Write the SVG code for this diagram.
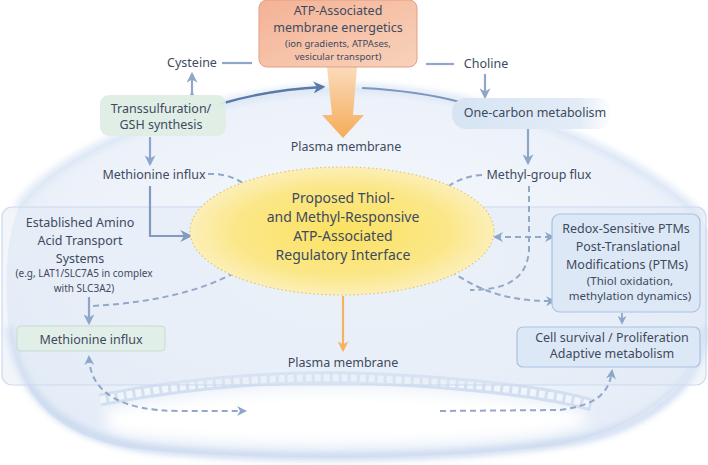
<svg xmlns="http://www.w3.org/2000/svg" width="708" height="465" viewBox="0 0 708 465">
<defs>
<style>
text{font-family:"Noto Sans","Open Sans","DejaVu Sans",sans-serif;fill:#3e4a5e;text-anchor:middle}
.m{font-size:12.5px}
.s{font-size:10px}
.e{font-size:14px}
.r{font-size:11.5px}
.sol{fill:none;stroke:#8ea6c9;stroke-width:2.2}
.dash{fill:none;stroke:#93a7c9;stroke-width:2;stroke-dasharray:6 4}
</style>
<filter id="blur" x="-10%" y="-30%" width="120%" height="160%"><feGaussianBlur stdDeviation="7"/></filter>
<filter id="blur2" x="-10%" y="-30%" width="120%" height="160%"><feGaussianBlur stdDeviation="3"/></filter>
<radialGradient id="cellG" cx="0.5" cy="0.45" r="0.6">
<stop offset="0" stop-color="#f4f7fc"/>
<stop offset="0.7" stop-color="#edf2fa"/>
<stop offset="1" stop-color="#e4ecf7"/>
</radialGradient>
<radialGradient id="ellG" cx="0.5" cy="0.5" r="0.5">
<stop offset="0" stop-color="#fbe262"/>
<stop offset="0.7" stop-color="#fbe788"/>
<stop offset="1" stop-color="#fcefb8"/>
</radialGradient>
<linearGradient id="topG" x1="0" y1="0" x2="1" y2="1">
<stop offset="0" stop-color="#f4b295"/>
<stop offset="1" stop-color="#f8d2bb"/>
</linearGradient>
<linearGradient id="orG" x1="0" y1="0" x2="0" y2="1">
<stop offset="0" stop-color="#fbd9b8"/>
<stop offset="1" stop-color="#f6a84f"/>
</linearGradient>
<linearGradient id="ocG" x1="0" y1="0" x2="1" y2="0">
<stop offset="0" stop-color="#d6e4f3"/>
<stop offset="0.8" stop-color="#e3ecf7"/>
<stop offset="1" stop-color="#e3ecf7" stop-opacity="0"/>
</linearGradient>
<marker id="ah" viewBox="0 0 10 10" refX="8" refY="5" markerWidth="5" markerHeight="5" orient="auto-start-reverse" markerUnits="strokeWidth">
<path d="M0,0 L10,5 L0,10 L3,5 z" fill="#8ea6c9"/>
</marker>
<marker id="ahd" viewBox="0 0 10 10" refX="8" refY="5" markerWidth="5.5" markerHeight="5.5" orient="auto-start-reverse" markerUnits="strokeWidth">
<path d="M0,0 L10,5 L0,10 L3,5 z" fill="#8299c0"/>
</marker>
<marker id="ahy" viewBox="0 0 10 10" refX="8" refY="5" markerWidth="6" markerHeight="6" orient="auto-start-reverse" markerUnits="strokeWidth">
<path d="M0,0 L10,5 L0,10 L3,5 z" fill="#a8a27c"/>
</marker>
<marker id="ahk" viewBox="0 0 10 10" refX="8" refY="5" markerWidth="5" markerHeight="5" orient="auto" markerUnits="strokeWidth">
<path d="M0,0 L10,5 L0,10 L3,5 z" fill="#5a78a8"/>
</marker>
<marker id="aho" viewBox="0 0 10 10" refX="8" refY="5" markerWidth="5" markerHeight="5" orient="auto" markerUnits="strokeWidth">
<path d="M0,0 L10,5 L0,10 L3,5 z" fill="#f6b264"/>
</marker>
</defs>

<rect width="708" height="465" fill="#ffffff"/>

<g id="cell">
<path d="M20,205 C60,150 200,92 340,88 C470,86 620,140 700,215 L708,230 L708,320 C700,380 650,425 560,445 C450,460 250,462 130,448 C50,435 15,390 8,320 C4,270 8,230 20,205 Z" fill="url(#cellG)"/>
<path d="M105,410 C200,392 300,388 380,391 C460,394 540,400 585,414 C600,425 560,438 450,442 C320,447 180,445 110,432 Z" fill="#ffffff" filter="url(#blur)"/>
<path d="M20,205 C60,150 200,92 340,88 C470,86 620,140 700,215" fill="none" stroke="#d9e5f4" stroke-width="9" stroke-linecap="round" opacity="0.8" filter="url(#blur2)"/>
<path d="M10,330 C20,395 60,440 160,450 C300,462 480,458 580,440 C650,425 700,385 706,330" fill="none" stroke="#c6d6ee" stroke-width="8" stroke-linecap="round" opacity="0.85" filter="url(#blur2)"/>
<path d="M100,400 C200,380 300,375 380,379 C460,383 540,390 592,405" fill="none" stroke="#d2dff1" stroke-width="13"/>
<path d="M100,400 C200,380 300,375 380,379 C460,383 540,390 592,405" fill="none" stroke="#f1f5fb" stroke-width="7" stroke-dasharray="6 3"/>
</g>

<g id="band">
<rect x="2" y="207" width="704" height="178" rx="10" fill="#dfe8f5" fill-opacity="0.4" stroke="#cbd9ed" stroke-width="1.2"/>
</g>

<g id="connectors">
<line x1="222" y1="63" x2="252" y2="63" class="sol"/>
<line x1="426" y1="64" x2="454" y2="64" class="sol"/>
<line x1="192" y1="95" x2="192" y2="74" class="sol" marker-end="url(#ah)"/>
<circle cx="192" cy="95" r="2" fill="#8ea6c9"/>
<path d="M220,104 C250,95 285,89 323,87" fill="none" stroke="#5a78a8" stroke-width="2.4" marker-end="url(#ahk)"/>
<path d="M362,88 C400,90 430,94 460,102" fill="none" stroke="#7d96c0" stroke-width="2.2"/>
<line x1="485" y1="74" x2="485" y2="97" class="sol" marker-end="url(#ah)"/>
<line x1="528" y1="123" x2="528" y2="163" class="sol" marker-end="url(#ah)"/>
<line x1="150" y1="137" x2="150" y2="164" class="sol" marker-end="url(#ah)"/>
<path d="M150,186 L150,236 L190,236" fill="none" stroke="#8299c0" stroke-width="2.2" marker-end="url(#ahd)"/>
<path d="M208,174 C230,173 245,182 256,195" class="dash" marker-end="url(#ahy)"/>
<path d="M482,175 C462,176 447,185 437,197" class="dash" marker-end="url(#ahy)"/>
<path d="M529,186 L529,250 C527,280 505,290 470,290" class="dash"/>
<line x1="495" y1="237" x2="553" y2="237" class="dash" marker-start="url(#ah)" marker-end="url(#ah)"/>
<path d="M435,258 C465,285 500,302 554,301" class="dash" marker-start="url(#ahy)" marker-end="url(#ah)"/>
<line x1="89" y1="297" x2="89" y2="323" class="sol" marker-end="url(#ah)"/>
<path d="M93,306 C160,302 220,288 256,258" class="dash" marker-end="url(#ahy)"/>
<path d="M89,357 C90,392 120,411 180,411 L245,411" class="dash" marker-start="url(#ah)" marker-end="url(#ah)"/>
<path d="M440,411 L560,410 C597,405 609,393 612,371" class="dash" marker-end="url(#ah)"/>
<line x1="622" y1="313" x2="622" y2="323" stroke="#8ea6c9" stroke-width="1.8" marker-end="url(#ah)"/>
<line x1="343" y1="296" x2="343" y2="350" stroke="#f6b264" stroke-width="2.2" marker-end="url(#aho)"/>
<path d="M327,67 L357,67 L353,115 L364,115 L343,138 L322,115 L332,115 Z" fill="url(#orG)" opacity="0.95"/>
</g>

<g id="atp-box">
<rect x="259" y="0" width="158" height="67" rx="8" fill="url(#topG)" stroke="#e39f84" stroke-width="1"/>
<text x="338" y="15" class="m">ATP-Associated</text>
<text x="338" y="32" class="m">membrane energetics</text>
<text x="338" y="47" style="font-size:9.5px">(ion gradients, ATPAses,</text>
<text x="338" y="60" style="font-size:9.5px">vesicular transport)</text>
</g>

<g id="cysteine"><text x="192" y="67" class="m">Cysteine</text></g>
<g id="choline"><text x="486" y="68" class="m">Choline</text></g>

<g id="transsulfuration">
<rect x="100" y="95" width="126" height="41" rx="9" fill="#dfede5" opacity="0.95"/>
<text x="161" y="113" class="m">Transsulfuration/</text>
<text x="161" y="129" class="m">GSH synthesis</text>
</g>

<g id="one-carbon">
<rect x="452" y="98" width="160" height="31" rx="14" fill="url(#ocG)"/>
<text x="535" y="117" class="m">One-carbon metabolism</text>
</g>

<g id="plasma-top"><text x="346" y="151" class="m">Plasma membrane</text></g>
<g id="methionine-top"><text x="154" y="179" class="m">Methionine influx</text></g>
<g id="methyl-flux"><text x="539" y="179" class="m">Methyl-group flux</text></g>

<g id="interface">
<ellipse cx="342" cy="231" rx="152" ry="64" fill="url(#ellG)" stroke="#e3c66a" stroke-width="1.2" stroke-dasharray="1.5 2.5"/>
<text x="343" y="203" class="e">Proposed Thiol-</text>
<text x="343" y="222" class="e">and Methyl-Responsive</text>
<text x="343" y="241" class="e">ATP-Associated</text>
<text x="343" y="260" class="e">Regulatory Interface</text>
</g>

<g id="transport">
<text x="80" y="227" class="m">Established Amino</text>
<text x="80" y="245" class="m">Acid Transport</text>
<text x="80" y="263" class="m">Systems</text>
<text x="84" y="277" class="s">(e.g, LAT1/SLC7A5 in complex</text>
<text x="84" y="292" class="s">with SLC3A2)</text>
</g>

<g id="methionine-box">
<rect x="17" y="326" width="148" height="25" rx="4" fill="#e2efe9" stroke="#c6dbd1" stroke-width="1"/>
<text x="91" y="344" class="m">Methionine influx</text>
</g>

<g id="redox">
<rect x="552" y="214" width="148" height="98" rx="8" fill="#dde8f6" stroke="#a9c1e1" stroke-width="1.2"/>
<text x="626" y="233" class="m">Redox-Sensitive PTMs</text>
<text x="628" y="251" class="m">Post-Translational</text>
<text x="627" y="269" class="m">Modifications (PTMs)</text>
<text x="630" y="285" class="r">(Thiol oxidation,</text>
<text x="630" y="300" class="r">methylation dynamics)</text>
</g>

<g id="survival">
<rect x="517" y="327" width="183" height="40" rx="6" fill="#dde8f6" stroke="#a9c1e1" stroke-width="1.2"/>
<text x="612" y="342" class="m">Cell survival / Proliferation</text>
<text x="612" y="358" class="m">Adaptive metabolism</text>
</g>

<g id="plasma-bottom"><text x="343" y="367" class="m">Plasma membrane</text></g>
</svg>
